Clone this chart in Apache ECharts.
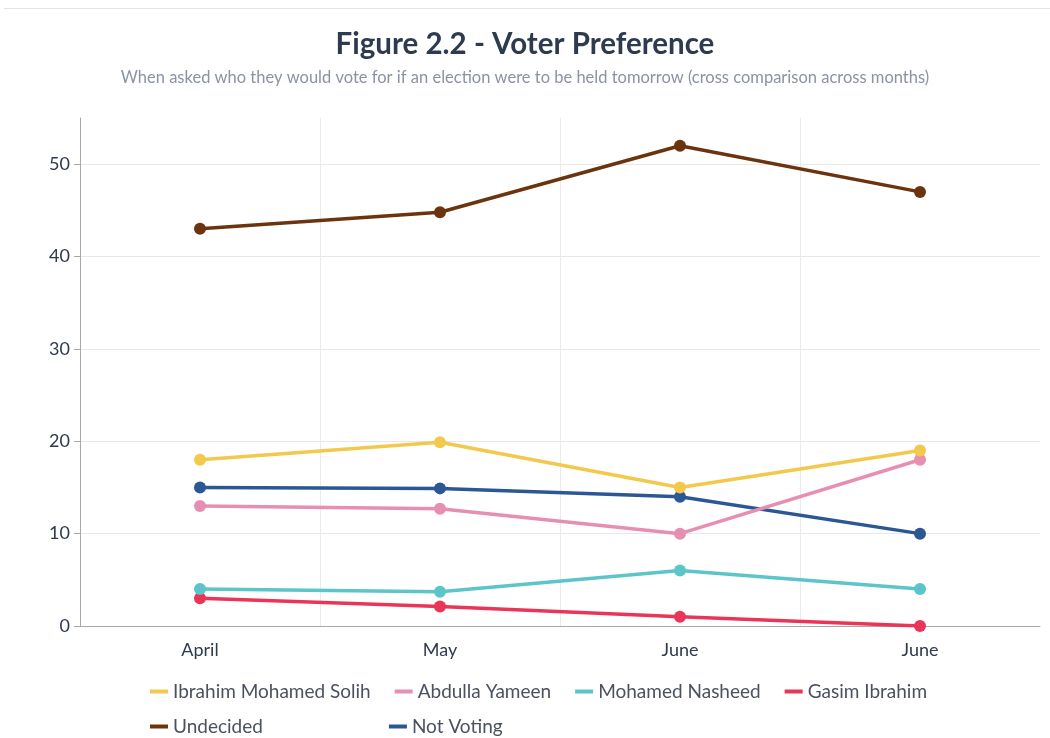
<!DOCTYPE html>
<html>
<head>
<meta charset="utf-8">
<script src="https://cdn.jsdelivr.net/npm/echarts@6/dist/echarts.min.js"></script>
<style>
html,body{margin:0;padding:0;background:#fff;}
#chart{width:1050px;height:738px;}
</style>
</head>
<body>
<div id="chart"></div>
<script>
const categories = ['April', 'May', 'June', 'June'];
const solih = [18, 19.9, 15, 19];
const yameen = [13, 12.7, 10, 18];
const nasheed = [4, 3.7, 6, 4];
const gasim = [3, 2.1, 1, 0];
const undecided = [43, 44.8, 52, 47];
const notVoting = [15, 14.9, 14, 10];

const seriesNames = ['Ibrahim Mohamed Solih', 'Abdulla Yameen', 'Mohamed Nasheed', 'Gasim Ibrahim', 'Undecided', 'Not Voting'];
const seriesData = [solih, yameen, nasheed, gasim, undecided, notVoting];
const colors = ['#F2C94C', '#E78FB3', '#5CC5C9', '#EA3558', '#6B340E', '#2B5894'];

const chart = echarts.init(document.getElementById('chart'));
const font = 'Lato, "Open Sans", sans-serif';

chart.setOption({
  animation: false,
  textStyle: { fontFamily: font },
  title: {
    text: 'Figure 2.2 - Voter Preference',
    subtext: 'When asked who they would vote for if an election were to be held tomorrow (cross comparison across months)',
    left: 'center',
    top: 24,
    itemGap: 10,
    textStyle: { fontFamily: font, fontSize: 29.5, fontWeight: 'bold', color: '#2E3A4D' },
    subtextStyle: { fontFamily: font, fontSize: 16.5, color: '#8A93A3' }
  },
  graphic: [{
    type: 'rect', left: 4, top: 8, shape: { width: 1046, height: 1 },
    style: { fill: '#E2E2E2' }, silent: true
  }],
  legend: [{
    data: seriesNames.slice(0, 4),
    left: 145, top: 677,
    itemWidth: 18, itemHeight: 4, itemGap: 24,
    icon: 'rect',
    textStyle: { fontFamily: font, fontSize: 19, color: '#4A5160' }
  }, {
    data: seriesNames.slice(4),
    left: 145, top: 712,
    itemWidth: 18, itemHeight: 4, itemGap: 126,
    icon: 'rect',
    textStyle: { fontFamily: font, fontSize: 19, color: '#4A5160' }
  }],
  grid: { left: 80, right: 10, top: 118, bottom: 112, containLabel: false },
  xAxis: {
    type: 'category',
    data: categories,
    boundaryGap: true,
    axisLine: { lineStyle: { color: '#A8A8A8', width: 1 } },
    axisTick: { alignWithLabel: true, length: 6, lineStyle: { color: '#A8A8A8' } },
    axisLabel: { fontFamily: font, fontSize: 18, color: '#2E3A4D', margin: 15 },
    splitLine: { show: true, showMinLine: false, showMaxLine: false, lineStyle: { color: '#EBEBEB' } }
  },
  yAxis: {
    type: 'value',
    min: 0, max: 55, interval: 10,
    axisLine: { show: true, lineStyle: { color: '#A8A8A8', width: 1 } },
    axisTick: { show: true, length: 6, lineStyle: { color: '#A8A8A8' } },
    axisLabel: { fontFamily: font, fontSize: 18, color: '#2E3A4D', margin: 10, showMaxLabel: false },
    splitLine: { show: true, showMaxLine: false, lineStyle: { color: '#E8E8E8' } }
  },
  series: seriesNames.map((n, i) => ({
    name: n,
    type: 'line',
    data: seriesData[i],
    color: colors[i],
    symbol: 'circle',
    symbolSize: 12,
    lineStyle: { width: 3.5 },
    z: 10 - i
  }))
});
</script>
</body>
</html>
